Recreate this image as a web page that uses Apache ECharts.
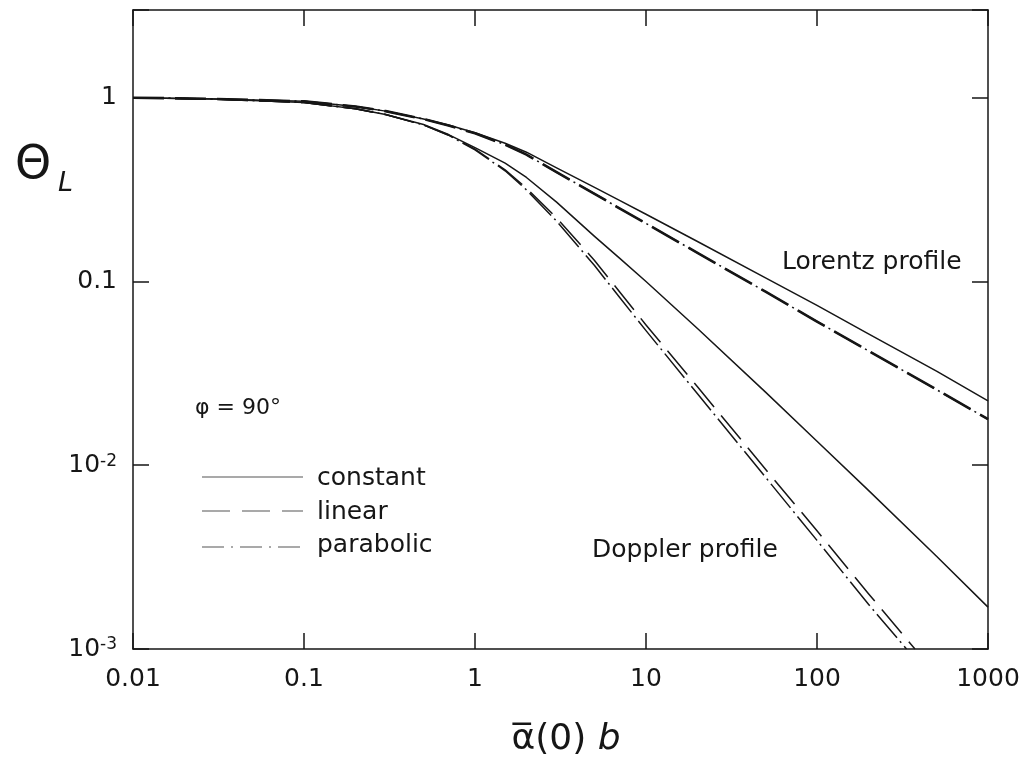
<!DOCTYPE html>
<html>
<head>
<meta charset="utf-8">
<script src="https://cdn.jsdelivr.net/npm/echarts@6/dist/echarts.min.js"></script>
<style>
  html, body { margin: 0; padding: 0; background: #fff; }
  #chart { width: 1030px; height: 757px; }
</style>
</head>
<body>
<div id="chart"></div>
<script>
// x positions (alpha(0) b) where the curves were read
const xRead = [0.01, 0.03, 0.1, 0.2, 0.3, 0.5, 0.7, 1, 1.5, 2, 3, 5, 7, 10, 20, 50, 100, 200, 500, 1000]

// Lorentz profile
const lorentzConstant = [1.0, 0.985, 0.955, 0.895, 0.845, 0.765, 0.71, 0.645, 0.565, 0.505, 0.415, 0.325, 0.276, 0.232, 0.165, 0.1045, 0.0741, 0.0518, 0.0325, 0.0224]
const lorentzLinear = [1.0, 0.985, 0.955, 0.895, 0.845, 0.765, 0.705, 0.64, 0.555, 0.49, 0.393, 0.30, 0.25, 0.207, 0.143, 0.088, 0.0605, 0.0419, 0.0258, 0.0178]
const lorentzParabolic = [1.0, 0.985, 0.955, 0.895, 0.845, 0.765, 0.705, 0.64, 0.555, 0.49, 0.393, 0.30, 0.25, 0.207, 0.143, 0.088, 0.0605, 0.0419, 0.0258, 0.0178]

// Doppler profile
const dopplerConstant = [1.0, 0.983, 0.94, 0.87, 0.81, 0.715, 0.63, 0.535, 0.44, 0.368, 0.27, 0.176, 0.134, 0.1, 0.0555, 0.025, 0.0135, 0.0073, 0.0032, 0.00169]
// the two steep curves leave the frame before x = 1000
const dopplerLinearX = [0.01, 0.03, 0.1, 0.2, 0.3, 0.5, 0.7, 1, 1.5, 2, 3, 5, 7, 10, 20, 50, 100, 200, 374]
const dopplerLinear = [1.0, 0.983, 0.94, 0.87, 0.81, 0.71, 0.627, 0.525, 0.405, 0.322, 0.222, 0.13, 0.088, 0.058, 0.0267, 0.0095, 0.0044, 0.002, 0.001]
const dopplerParabolicX = [0.01, 0.03, 0.1, 0.2, 0.3, 0.5, 0.7, 1, 1.5, 2, 3, 5, 7, 10, 20, 50, 100, 200, 334]
const dopplerParabolic = [1.0, 0.983, 0.94, 0.87, 0.81, 0.71, 0.625, 0.52, 0.40, 0.315, 0.213, 0.122, 0.082, 0.054, 0.0245, 0.0086, 0.0039, 0.00175, 0.001]

const xTickLabels = { '-2': '0.01', '-1': '0.1', '0': '1', '1': '10', '2': '100', '3': '1000' }

const FONT = '"DejaVu Sans", "Liberation Sans", sans-serif'
const INK = '#161616'
const DASHED = [31, 11]
const DASH_DOT = [31, 4.5, 2, 4.5]

const pair = (xs, ys) => ys.map((y, i) => [xs[i], y])

const decade = v => {
  const l = Math.log10(v)
  const e = Math.round(l)
  return Math.abs(l - e) < 1e-6 ? e : null
}

const axisLine = { onZero: false, lineStyle: { color: INK, width: 1.5 } }
const axisTick = { inside: true, length: 16, lineStyle: { color: INK, width: 1.5 } }

const xAxisBase = {
  type: 'log', logBase: 10, min: 0.01, max: 1000,
  axisLine, axisTick, splitLine: { show: false }, minorTick: { show: false }
}
const yAxisBase = {
  type: 'log', logBase: 10, min: 0.001, max: 3,
  axisLine, axisTick, splitLine: { show: false }, minorTick: { show: false }
}

const line = (name, data, type, width) => ({
  name, type: 'line', data,
  showSymbol: false, symbol: 'none', smooth: false,
  lineStyle: { color: INK, width, type, join: 'round' }
})

const chart = echarts.init(document.getElementById('chart'))
chart.setOption({
  animation: false,
  backgroundColor: '#fff',
  grid: { left: 133, right: 42, top: 10, bottom: 108 },
  xAxis: [
    {
      ...xAxisBase, position: 'bottom',
      axisLabel: {
        margin: 18, fontSize: 25, fontFamily: FONT, color: INK,
        formatter: v => { const e = decade(v); return e === null ? '' : xTickLabels[e] }
      }
    },
    { ...xAxisBase, position: 'top', axisLabel: { show: false } }
  ],
  yAxis: [
    {
      ...yAxisBase, position: 'left',
      axisLabel: {
        margin: 16, fontSize: 25, fontFamily: FONT, color: INK,
        formatter: v => {
          const e = decade(v)
          if (e === null) return ''
          if (e === 0) return '1'
          if (e === -1) return '0.1'
          return '{b|10}{s|' + e + '}'
        },
        rich: {
          b: { fontSize: 25, fontFamily: FONT, color: INK },
          s: { fontSize: 17, fontFamily: FONT, color: INK, verticalAlign: 'top', padding: [0, 0, 6, 0] }
        }
      }
    },
    { ...yAxisBase, position: 'right', axisLabel: { show: false } }
  ],
  series: [
    line('Lorentz constant', pair(xRead, lorentzConstant), 'solid', 1.5),
    line('Lorentz linear', pair(xRead, lorentzLinear), DASHED, 2.6),
    line('Lorentz parabolic', pair(xRead, lorentzParabolic), DASH_DOT, 1.6),
    line('Doppler constant', pair(xRead, dopplerConstant), 'solid', 1.5),
    line('Doppler linear', pair(dopplerLinearX, dopplerLinear), DASHED, 1.5),
    line('Doppler parabolic', pair(dopplerParabolicX, dopplerParabolic), DASH_DOT, 1.5)
  ],
  graphic: [
    // axis titles
    { type: 'text', x: 33, y: 166, style: { text: 'Θ', font: '46px ' + FONT, fill: INK, align: 'center', verticalAlign: 'middle' } },
    { type: 'text', x: 58, y: 184, style: { text: 'L', font: 'italic 27px ' + FONT, fill: INK, align: 'left', verticalAlign: 'middle' } },
    {
      type: 'text', x: 566, y: 740,
      style: {
        text: '{a|α\u0305}{n|(0) }{b|b}', align: 'center', verticalAlign: 'middle',
        rich: {
          a: { font: '36px ' + FONT, fill: INK },
          n: { font: '36px ' + FONT, fill: INK },
          b: { font: 'italic 36px ' + FONT, fill: INK }
        }
      }
    },
    // annotations
    { type: 'text', x: 782, y: 262, style: { text: 'Lorentz profile', font: '25px ' + FONT, fill: INK, verticalAlign: 'middle' } },
    { type: 'text', x: 592, y: 550, style: { text: 'Doppler profile', font: '25px ' + FONT, fill: INK, verticalAlign: 'middle' } },
    { type: 'text', x: 195, y: 408, style: { text: 'φ = 90°', font: '22px ' + FONT, fill: INK, verticalAlign: 'middle' } },
    // legend
    { type: 'line', shape: { x1: 202, y1: 477, x2: 303, y2: 477 }, style: { stroke: '#555', lineWidth: 1.2 } },
    { type: 'line', shape: { x1: 202, y1: 511, x2: 303, y2: 511 }, style: { stroke: '#555', lineWidth: 1.2, lineDash: [28, 12] } },
    { type: 'line', shape: { x1: 202, y1: 547, x2: 303, y2: 547 }, style: { stroke: '#555', lineWidth: 1.2, lineDash: [22, 7, 2, 7] } },
    { type: 'text', x: 317, y: 478, style: { text: 'constant', font: '25px ' + FONT, fill: INK, verticalAlign: 'middle' } },
    { type: 'text', x: 317, y: 512, style: { text: 'linear', font: '25px ' + FONT, fill: INK, verticalAlign: 'middle' } },
    { type: 'text', x: 317, y: 545, style: { text: 'parabolic', font: '25px ' + FONT, fill: INK, verticalAlign: 'middle' } }
  ]
})
</script>
</body>
</html>
